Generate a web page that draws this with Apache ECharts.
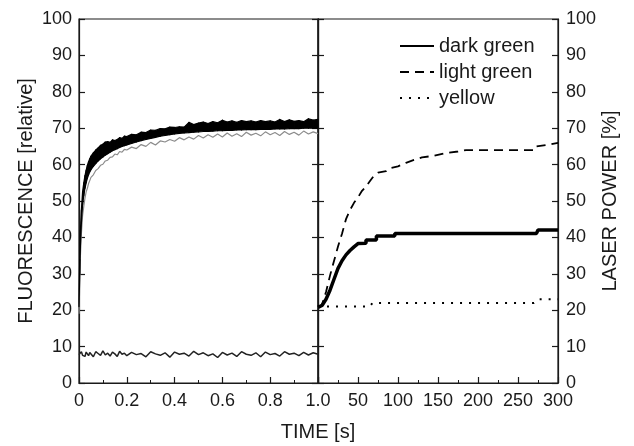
<!DOCTYPE html>
<html><head><meta charset="utf-8">
<script src="https://cdn.jsdelivr.net/npm/echarts@6/dist/echarts.min.js"></script>
<style>html,body{margin:0;padding:0;background:#fff}#c{width:634px;height:446px}</style>
</head><body><div id="c"></div>
<script>
// Left panel: fluorescence vs time [s]
const fTime = [0, 0.003, 0.006, 0.01, 0.015, 0.02, 0.025, 0.03, 0.035, 0.04, 0.045,
  0.05, 0.06, 0.07, 0.08, 0.09, 0.10, 0.11, 0.12, 0.13, 0.14, 0.15, 0.16, 0.17, 0.18, 0.19, 0.20,
  0.22, 0.24, 0.26, 0.28, 0.30, 0.32, 0.34, 0.36, 0.38, 0.40, 0.42, 0.44, 0.46, 0.48, 0.50,
  0.52, 0.54, 0.56, 0.58, 0.60, 0.62, 0.64, 0.66, 0.68, 0.70, 0.72, 0.74, 0.76, 0.78, 0.80,
  0.82, 0.84, 0.86, 0.88, 0.90, 0.92, 0.94, 0.96, 0.98, 1.00];
// dark green: noisy band, lower and upper edges
const fDarkLow = [21, 30, 38, 44, 49, 51.5, 53.5, 55, 56.2, 57.2, 58,
  58.6, 59.5, 60.3, 61, 61.6, 62.1, 62.6, 63, 63.4, 63.8, 64.1, 64.4, 64.7, 65, 65.2, 65.4,
  65.8, 66.2, 66.6, 66.9, 67.2, 67.5, 67.8, 68.0, 68.2, 68.4, 68.6, 68.7, 68.8, 68.9, 69.0,
  69.1, 69.1, 69.2, 69.3, 69.3, 69.4, 69.4, 69.5, 69.5, 69.6, 69.6, 69.6, 69.7, 69.7, 69.7,
  69.8, 69.8, 69.8, 69.9, 69.9, 69.9, 70.0, 70.0, 70.0, 70.0];
const fDarkHigh = [23, 34, 42, 47.5, 52.5, 55, 57, 58.5, 59.8, 60.8, 61.6,
  62.3, 63.2, 64, 64.6, 65.3, 65.6, 66.2, 66.3, 66.1, 66.8, 66.6, 66.9, 67.4, 67.2, 67.8, 67.7,
  68.3, 68.2, 68.9, 68.8, 69.5, 69.4, 69.9, 69.8, 70.3, 70.2, 70.4, 70.3, 71.6, 71.0, 71.4,
  71.7, 71.3, 71.8, 71.5, 72.2, 71.7, 72.0, 71.6, 72.1, 71.8, 72.0, 71.7, 72.1, 71.8, 72.0,
  71.7, 72.4, 71.8, 72.3, 71.9, 72.1, 71.8, 72.6, 72.2, 72.4];
const fLightGreen = [19, 27, 35, 41, 46, 48.5, 50.8, 52.5, 53.5, 54.8, 55.6,
  56.5, 57.2, 58.4, 58.9, 59.8, 60.1, 61.0, 61.2, 62.0, 62.1, 62.9, 62.7, 63.6, 63.4, 64.2, 64.0,
  64.8, 64.4, 65.5, 65.0, 66.1, 65.4, 66.5, 66.2, 66.9, 66.4, 67.4, 66.8, 67.6, 67.0, 68.0,
  67.3, 68.2, 67.5, 68.4, 67.6, 68.7, 67.8, 68.5, 67.7, 68.9, 68.1, 68.6, 67.9, 69.0, 68.2,
  68.8, 68.0, 69.1, 68.3, 68.9, 68.1, 69.2, 68.4, 69.0, 68.5];
const fYellow = [7.8, 8.3, 7.4, 8.6, 7.6, 8.1, 7.3, 8.5, 8.0, 7.5, 8.4,
  7.9, 7.2, 8.6, 8.1, 7.6, 8.8, 7.7, 8.2, 7.4, 8.5, 8.0, 7.3, 8.7, 7.9, 8.2, 7.5,
  8.4, 7.8, 8.1, 7.2, 8.6, 8.0, 7.6, 8.3, 7.1, 8.5, 7.9, 8.2, 7.4, 8.7,
  7.8, 8.3, 7.5, 8.0, 7.0, 8.4, 7.7, 8.2, 7.3, 8.6, 7.9, 7.6, 8.3, 7.2, 8.5,
  7.8, 8.1, 7.4, 8.6, 7.9, 8.2, 7.5, 8.4, 7.7, 8.3, 7.9];

// Right panel: laser power [%] vs time [s]
const dgTime = [0, 5, 10, 15, 20, 25, 30, 35, 40, 45, 50, 60, 60, 73, 73, 96, 96, 273, 275, 300];
const dgPower = [20.8, 21.3, 23, 25.5, 28.5, 31.5, 33.6, 35.2, 36.4, 37.4, 38.3, 38.4, 39.3, 39.3, 40.4, 40.4, 41.1, 41.1, 42, 42];
const lgTime = [0, 5, 10, 15, 20, 25, 30, 35, 40, 45, 50, 55, 60, 65, 70, 75, 85, 90, 100, 110, 120, 130, 145, 160, 175, 185, 270, 272, 290, 300];
const lgPower = [21, 21.5, 25, 29.5, 33.5, 37.5, 41, 45, 47.5, 49.5, 51, 52.8, 54, 55.5, 57, 57.8, 58.2, 59, 59.5, 60.5, 61.3, 62, 62.4, 63.2, 63.6, 64, 64, 65, 65.5, 66];
const ylTime = [0, 65, 68, 270, 275, 300];
const ylPower = [21, 21, 22, 22, 23, 23];

const seriesNames = ['dark green', 'light green', 'yellow'];
const yTicks = [0, 10, 20, 30, 40, 50, 60, 70, 80, 90, 100];

const zip = (a, b) => a.map((v, i) => [v, b[i]]);
const FONT = 'Liberation Sans, Arial, sans-serif';
const INK = '#1a1a1a';

const chart = echarts.init(document.getElementById('c'), null, {renderer: 'canvas'});
const yBase = (grid, pos, showLabels, extra) => Object.assign({
  type: 'value', gridIndex: grid, position: pos, min: yTicks[0], max: yTicks[yTicks.length - 1], interval: 10,
  axisLine: {show: true, onZero: false, lineStyle: {color: INK, width: 1.2}},
  axisTick: {show: true, inside: true, length: 6, lineStyle: {color: INK, width: 1.2}},
  axisLabel: {show: showLabels, color: INK, fontSize: 18, fontFamily: FONT, margin: 7},
  splitLine: {show: false}
}, extra || {});
const xLabel = f => ({color: INK, fontSize: 18, fontFamily: FONT, margin: 9, formatter: f});

// band between lower and upper edges, drawn segment by segment through the axis scale
const bandRender = (params, api) => {
  const i = params.dataIndex;
  if (i >= fTime.length - 1) return null;
  const a0 = api.coord([fTime[i], fDarkLow[i]]);
  const a1 = api.coord([fTime[i + 1], fDarkLow[i + 1]]);
  const b1 = api.coord([fTime[i + 1], fDarkHigh[i + 1]]);
  const b0 = api.coord([fTime[i], fDarkHigh[i]]);
  return {type: 'polygon', shape: {points: [a0, a1, b1, b0]},
    style: {fill: '#000', stroke: '#000', lineWidth: 1.2, lineJoin: 'round'}};
};

chart.setOption({
  animation: false,
  backgroundColor: '#fff',
  grid: [
    {left: 79, right: 316, top: 19, bottom: 63, show: true, borderColor: INK, borderWidth: 1.2},
    {left: 318, right: 76, top: 19, bottom: 63, show: true, borderColor: INK, borderWidth: 1.2}
  ],
  xAxis: [
    {type: 'value', gridIndex: 0, min: 0, max: 1, interval: 0.2,
     axisLine: {onZero: false, lineStyle: {color: INK, width: 1.2}},
     axisTick: {inside: true, length: 6, lineStyle: {color: INK, width: 1.2}},
     minorTick: {show: true, splitNumber: 2, length: 3, lineStyle: {color: INK}},
     axisLabel: xLabel(v => v === 0 ? '0' : v.toFixed(1)),
     splitLine: {show: false}},
    {type: 'value', gridIndex: 1, min: 0, max: 300, interval: 50,
     axisLine: {onZero: false, lineStyle: {color: INK, width: 1.2}},
     axisTick: {inside: true, length: 6, lineStyle: {color: INK, width: 1.2}},
     minorTick: {show: true, splitNumber: 2, length: 3, lineStyle: {color: INK}},
     axisLabel: xLabel(v => v === 0 ? '' : String(v)),
     splitLine: {show: false}}
  ],
  yAxis: [
    yBase(0, 'left', true, {name: 'FLUORESCENCE [relative]', nameLocation: 'middle', nameGap: 43,
      nameTextStyle: {color: INK, fontSize: 20, fontFamily: FONT}}),
    yBase(0, 'right', false),
    yBase(1, 'left', false),
    yBase(1, 'right', true, {name: 'LASER POWER [%]', nameLocation: 'middle', nameGap: 42, nameRotate: 90,
      axisLabel: {show: true, color: INK, fontSize: 18, fontFamily: FONT, margin: 8},
      nameTextStyle: {color: INK, fontSize: 20, fontFamily: FONT}})
  ],
  legend: {
    orient: 'vertical', left: 394, top: 31, itemWidth: 34, itemHeight: 14, itemGap: 6,
    data: seriesNames, selectedMode: false,
    itemStyle: {opacity: 0},
    textStyle: {color: INK, fontSize: 20, fontFamily: FONT}
  },
  graphic: [{type: 'text', x: 318, y: 422,
    style: {text: 'TIME [s]', fill: INK, font: '20px ' + FONT, textAlign: 'center'}}],
  series: [
    {name: seriesNames[0], type: 'line', xAxisIndex: 1, yAxisIndex: 3, data: zip(dgTime, dgPower),
     symbol: 'none', lineStyle: {color: '#000', width: 3.5, type: 'solid'}, itemStyle: {color: '#000'}},
    {name: seriesNames[1], type: 'line', xAxisIndex: 1, yAxisIndex: 3, data: zip(lgTime, lgPower),
     symbol: 'none', lineStyle: {color: '#000', width: 1.8, type: [9, 6]}, itemStyle: {color: '#000'}},
    {name: seriesNames[2], type: 'line', xAxisIndex: 1, yAxisIndex: 3, data: zip(ylTime, ylPower),
     symbol: 'none', lineStyle: {color: '#000', width: 2, type: [2, 7]}, itemStyle: {color: '#000'}},
    {name: 'F light green', type: 'line', xAxisIndex: 0, yAxisIndex: 0, data: zip(fTime, fLightGreen),
     symbol: 'none', lineStyle: {color: '#8c8c8c', width: 1.2}, z: 1},
    {name: 'F dark green', type: 'custom', xAxisIndex: 0, yAxisIndex: 0,
     data: fTime.map((t, i) => [t, fDarkLow[i], fDarkHigh[i]]),
     encode: {x: 0, y: [1, 2]}, renderItem: bandRender, z: 2},
    {name: 'F yellow', type: 'line', xAxisIndex: 0, yAxisIndex: 0, data: zip(fTime, fYellow),
     symbol: 'none', lineStyle: {color: '#222', width: 1.5}}
  ]
});
</script></body></html>
